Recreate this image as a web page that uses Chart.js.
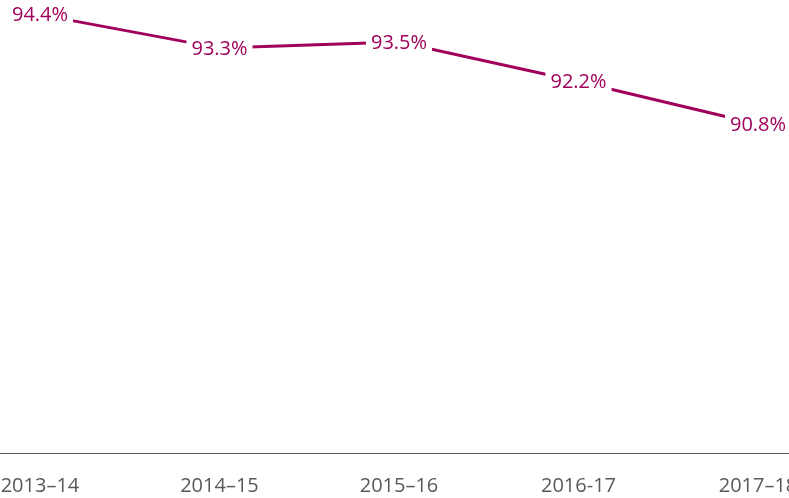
<!DOCTYPE html>
<html><head><meta charset="utf-8">
<script src="https://cdn.jsdelivr.net/npm/chart.js@4/dist/chart.umd.min.js"></script>
<style>html,body{margin:0;padding:0;background:#fff;}#wrap{width:789px;height:498px;}</style>
</head><body><div id="wrap"><canvas id="c" width="789" height="498"></canvas></div>
<script>
const categories = ["2013–14", "2014–15", "2015–16", "2016-17", "2017–18"];
const values = [94.4, 93.3, 93.5, 92.2, 90.8];
const valueLabels = ["94.4%", "93.3%", "93.5%", "92.2%", "90.8%"];

const LINE = "#A0005A";
const GREY = "#595959";
const FONT = "'Open Sans', 'Noto Sans', sans-serif";

const labelPlugin = {
  id: 'ptLabels',
  afterDatasetsDraw(chart) {
    const ctx = chart.ctx;
    const meta = chart.getDatasetMeta(0);
    ctx.save();
    ctx.font = "20px " + FONT;
    ctx.textAlign = "center";
    ctx.textBaseline = "middle";
    meta.data.forEach((pt, i) => {
      const t = valueLabels[i];
      const w = ctx.measureText(t).width;
      ctx.fillStyle = "#fff";
      ctx.fillRect(pt.x - w/2 - 5, pt.y - 12, w + 10, 24);
      ctx.fillStyle = LINE;
      ctx.fillText(t, pt.x, pt.y + 1);
    });
    ctx.restore();
  }
};

new Chart(document.getElementById('c'), {
  type: 'line',
  data: {
    datasets: [{
      data: values.map((v, i) => ({x: i, y: v})),
      borderColor: LINE,
      borderWidth: 3,
      pointRadius: 0,
      tension: 0,
      fill: false
    }]
  },
  options: {
    responsive: false,
    animation: false,
    devicePixelRatio: 1,
    layout: {padding: {left: 0, right: 0, top: 0, bottom: 0}},
    plugins: {legend: {display: false}, tooltip: {enabled: false}},
    scales: {
      x: {
        type: 'linear',
        min: -0.2228,
        max: 4.1727,
        afterBuildTicks: s => { s.ticks = categories.map((_, i) => ({value: i})); },
        afterFit: s => { s.paddingLeft = 0; s.paddingRight = 0; s.height = 45; },
        grid: {display: false, drawTicks: false},
        border: {display: true, color: GREY, width: 1},
        ticks: {
          autoSkip: false,
          maxRotation: 0,
          padding: 21,
          color: GREY,
          font: {family: FONT, size: 20},
          callback: v => categories[v]
        }
      },
      y: {
        min: 80,
        max: 94.88,
        display: false
      }
    }
  },
  plugins: [labelPlugin]
});
</script></body></html>
